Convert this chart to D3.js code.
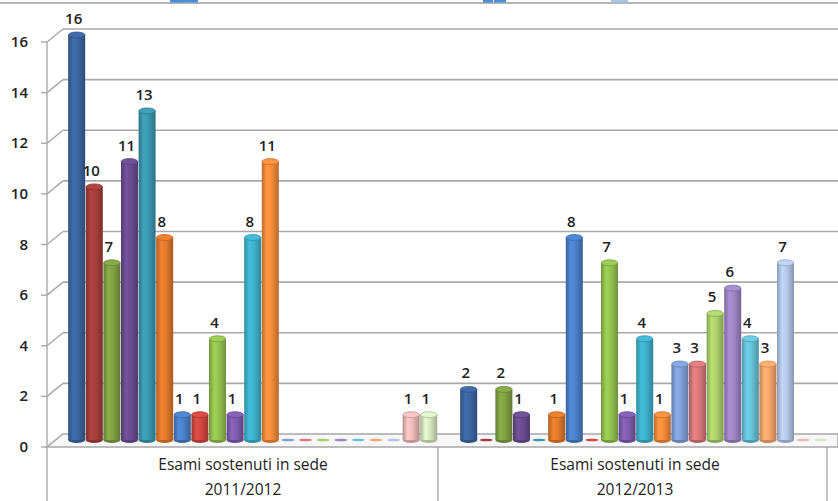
<!DOCTYPE html>
<html>
<head>
<meta charset="utf-8">
<script src="https://cdn.jsdelivr.net/npm/d3@7"></script>
<style>
  html, body { margin: 0; padding: 0; background: #fff; }
  #chart { width: 838px; height: 501px; }
  text { font-family: "Open Sans", "Noto Sans", sans-serif; fill: #222; }
</style>
</head>
<body>
<div id="chart"></div>
<script>
// categorie (due anni accademici) e 21 serie
const groups = ['2011/2012', '2012/2013'];
const groupTitle = 'Esami sostenuti in sede';
const series = d3.range(1, 22).map(i => 'S' + i);
const values2011 = [16, 10, 7, 11, 13, 8, 1, 1, 4, 1, 8, 11, 0, 0, 0, 0, 0, 0, 0, 1, 1];
const values2012 = [2, 0, 2, 1, 0, 1, 8, 0, 7, 1, 4, 1, 3, 3, 5, 6, 4, 3, 7, 0, 0];
const yTicks = [0, 2, 4, 6, 8, 10, 12, 14, 16];
const colors = [
  '#3B65A0', '#A53E3C', '#7FA043', '#6A4C8E', '#3A96AE', '#E0792B',
  '#4A7FC8', '#D0473F', '#93C04E', '#7E5BAE', '#3EB0CC', '#F38B3A',
  '#7E9FD6', '#D9777A', '#A9CF6A', '#9C84C4', '#66C0D8', '#F8A66A',
  '#B3C6E6', '#EBB9B8', '#D5E6BE'
];

const width = 838, height = 501;
const depthX = 16, depthY = 13;   // profondità della parete 3D

const svg = d3.select('#chart').append('svg')
  .attr('width', width)
  .attr('height', height);

const defs = svg.append('defs');
colors.forEach((c, i) => {
  const base = d3.color(c);
  const grad = defs.append('linearGradient')
    .attr('id', 'cyl' + i)
    .attr('x1', '0%').attr('x2', '100%').attr('y1', '0%').attr('y2', '0%');
  grad.append('stop').attr('offset', '0%').attr('stop-color', base.darker(0.7));
  grad.append('stop').attr('offset', '30%').attr('stop-color', base.brighter(0.25));
  grad.append('stop').attr('offset', '60%').attr('stop-color', base);
  grad.append('stop').attr('offset', '100%').attr('stop-color', base.darker(0.8));
});

// scale: frontale, centrale (barre) e parete di fondo
const yFront = d3.scaleLinear().domain([0, 16]).range([447, 42]);
const yMid = v => yFront(v) - depthY / 2 - 0.5;
const yBack = v => yFront(v) - depthY;

const x0 = d3.scaleBand()
  .domain(groups)
  .range([57, 841])
  .paddingInner(0.057)
  .paddingOuter(0.0285);
const x1 = d3.scaleBand()
  .domain(series)
  .range([0, x0.bandwidth()]);

const frontX = x => x - depthX / 2 - 3;
const axisX = 47;
const grid = '#A8A8A8';

// linea superiore e frammenti
svg.append('line')
  .attr('x1', 0).attr('x2', width).attr('y1', 3).attr('y2', 3)
  .attr('stroke', '#B4B4B4').attr('stroke-width', 2);
svg.append('g').selectAll('rect')
  .data([[170, 14, '#4A8FD6'], [183, 15, '#4A8FD6'], [483, 10, '#4A8FD6'], [494, 12, '#4A8FD6'], [611, 17, '#A9C4E4']])
  .join('rect')
  .attr('x', d => d[0]).attr('y', 0).attr('width', d => d[1]).attr('height', 2.5)
  .attr('fill', d => d[2]);

// parete di fondo: griglia
svg.append('g').selectAll('line')
  .data(yTicks.filter(t => t > 0))
  .join('line')
  .attr('x1', axisX + depthX).attr('x2', width)
  .attr('y1', d => yBack(d)).attr('y2', d => yBack(d))
  .attr('stroke', grid).attr('stroke-width', 1.6);

// parete laterale: diagonali
svg.append('g').selectAll('line')
  .data(yTicks)
  .join('line')
  .attr('x1', axisX).attr('y1', d => yFront(d))
  .attr('x2', axisX + depthX).attr('y2', d => yBack(d))
  .attr('stroke', grid).attr('stroke-width', 1.4);

// pavimento
svg.append('path')
  .attr('d', `M${axisX},${yFront(0)} L${axisX + depthX},${yBack(0)} L${width},${yBack(0)} L${width},${yFront(0)} Z`)
  .attr('fill', '#F7F7F7')
  .attr('stroke', grid).attr('stroke-width', 1.4);

// asse verticale e tacche
svg.append('line')
  .attr('x1', axisX).attr('x2', axisX).attr('y1', yFront(16)).attr('y2', height)
  .attr('stroke', grid).attr('stroke-width', 1.4);
svg.append('g').selectAll('line')
  .data(yTicks)
  .join('line')
  .attr('x1', axisX - 6).attr('x2', axisX)
  .attr('y1', d => yFront(d)).attr('y2', d => yFront(d))
  .attr('stroke', grid).attr('stroke-width', 1.4);
svg.append('g').selectAll('text')
  .data(yTicks)
  .join('text')
  .attr('x', 28)
  .attr('y', d => yFront(d) + 1)
  .attr('text-anchor', 'end')
  .attr('dominant-baseline', 'middle')
  .attr('font-size', 15)
  .attr('font-weight', 600)
  .text(d => d);

// asse delle categorie
const dividers = [x0.range()[0], ...groups.slice(1).map(g => x0(g) - x0.step() * x0.paddingInner() / 2), x0.range()[1] - 3];
svg.append('g').selectAll('line')
  .data(dividers.slice(1))
  .join('line')
  .attr('x1', d => frontX(d)).attr('x2', d => frontX(d))
  .attr('y1', yFront(0)).attr('y2', height)
  .attr('stroke', grid).attr('stroke-width', 1.4);

const catLabel = svg.append('g').selectAll('g')
  .data(groups)
  .join('g')
  .attr('transform', d => `translate(${frontX(x0(d) + x0.bandwidth() / 2) + 1},0)`);
catLabel.append('text')
  .attr('y', 470).attr('text-anchor', 'middle').attr('font-size', 15.5)
  .text(groupTitle);
catLabel.append('text')
  .attr('y', 495).attr('text-anchor', 'middle').attr('font-size', 15.5)
  .text(d => d);

// barre cilindriche
const rows = [];
groups.forEach((g, gi) => {
  const vals = gi === 0 ? values2011 : values2012;
  series.forEach((s, si) => rows.push({ group: g, series: s, idx: si, value: vals[si] }));
});

const bw = x1.bandwidth() - 0.6;
const ry = 3;
const bars = svg.append('g').selectAll('g')
  .data(rows)
  .join('g')
  .attr('transform', d => `translate(${x0(d.group) + x1(d.series)},0)`);

bars.filter(d => d.value > 0).append('ellipse')
  .attr('cx', bw / 2).attr('cy', yMid(0)).attr('rx', bw / 2).attr('ry', ry)
  .attr('fill', d => d3.color(colors[d.idx]).darker(0.6));
bars.filter(d => d.value > 0).append('rect')
  .attr('x', 0).attr('width', bw)
  .attr('y', d => yMid(d.value)).attr('height', d => yMid(0) - yMid(d.value))
  .attr('fill', d => `url(#cyl${d.idx})`);
bars.filter(d => d.value > 0).append('ellipse')
  .attr('cx', bw / 2).attr('cy', d => yMid(d.value)).attr('rx', bw / 2 - 0.3).attr('ry', ry)
  .attr('fill', d => d3.color(colors[d.idx]).brighter(0.2))
  .attr('stroke', d => d3.color(colors[d.idx]).darker(0.6))
  .attr('stroke-width', 0.8);
// valori nulli: dischetto piatto
bars.filter(d => d.value === 0).append('ellipse')
  .attr('cx', bw / 2).attr('cy', yMid(0)).attr('rx', bw / 2 - 2).attr('ry', 1.3)
  .attr('fill', d => colors[d.idx]);

// etichette dei valori
svg.append('g').selectAll('text')
  .data(rows.filter(d => d.value > 0))
  .join('text')
  .attr('x', d => x0(d.group) + x1(d.series) + bw / 2 - 3)
  .attr('y', d => yMid(d.value) - 11)
  .attr('text-anchor', 'middle')
  .attr('font-size', 15)
  .attr('font-weight', 600)
  .text(d => d.value);
</script>
</body>
</html>
